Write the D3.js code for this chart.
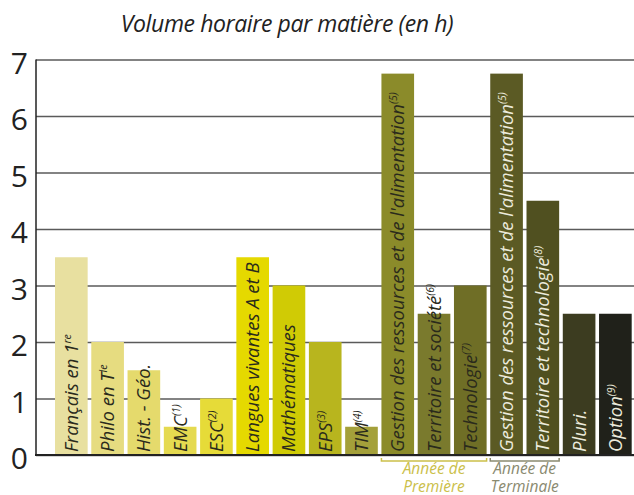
<!DOCTYPE html>
<meta charset="utf-8">
<script src="https://d3js.org/d3.v7.min.js"></script>
<style>
  html, body { margin: 0; padding: 0; background: #fff; }
  svg { display: block; font-family: 'Open Sans', sans-serif; }
</style>
<body>
<div id="chart"></div>
<script>

// data
var subjects = ["Français en 1", "Philo en T", "Hist. - Géo.", "EMC", "ESC",
  "Langues vivantes A et B", "Mathématiques", "EPS", "TIM",
  "Gestion des ressources et de l'alimentation", "Territoire et société", "Technologie",
  "Gestion des ressources et de l'alimentation", "Territoire et technologie", "Pluri.", "Option"]
var notes = ["re", "le", "", "(1)", "(2)", "", "", "(3)", "(4)", "(5)", "(6)", "(7)", "(5)", "(8)", "", "(9)"]
var hours = [3.5, 2, 1.5, 0.5, 1, 3.5, 3, 2, 0.5, 6.75, 2.5, 3, 6.75, 4.5, 2.5, 2.5]
var yTicks = [0, 1, 2, 3, 4, 5, 6, 7]
var groups = [
  {name: ["Année de", "Première"], from: 9, to: 11},
  {name: ["Année de", "Terminale"], from: 12, to: 13}
]

var palette = ["#e8e0a0", "#e6dc80", "#e5da6c", "#e5da50", "#e6db38", "#e5d900", "#d0cb05", "#b8b51e",
  "#a4a03a", "#8b8b2a", "#7a7a2d", "#6f6e26", "#5b5a24", "#505020", "#3c3c20", "#20211a"]
var groupColors = ["#cbc04a", "#8a8a70"]

var width = 634
    height = 495

var svg = d3.select("#chart")
  .append("svg")
    .attr("width", width)
    .attr("height", height)

var x = d3.scaleBand()
  .domain(d3.range(hours.length))
  .range([53.2, 633.5])
  .paddingInner(0.1)
  .paddingOuter(0.05)

var y = d3.scaleLinear()
  .domain([0, 7])
  .range([455, 59.5])

var color = d3.scaleOrdinal()
  .domain(d3.range(hours.length))
  .range(palette)

// title
svg.append("text")
  .attr("x", 287)
  .attr("y", 32)
  .attr("text-anchor", "middle")
  .style("font-size", "23px")
  .style("letter-spacing", "-0.4px")
  .style("font-style", "italic")
  .style("fill", "#222")
  .text("Volume horaire par matière (en h)")

// grid + y axis
var yAxis = svg.append("g")
  .attr("transform", "translate(36,0)")
  .call(d3.axisLeft(y).tickValues(yTicks).tickSize(-(width - 36)).tickFormat(d3.format("d")))

yAxis.select(".domain").remove()
yAxis.selectAll(".tick line")
  .attr("stroke", "#5a5a5a")
  .attr("stroke-width", 1.4)
yAxis.selectAll(".tick text")
  .attr("x", -8)
  .attr("dy", "0.45em")
  .style("font-size", "30px")
  .style("font-family", "'Open Sans', sans-serif")
  .style("fill", "#222")

// bars
svg.selectAll("rect.bar")
  .data(hours)
  .enter()
  .append("rect")
    .attr("class", "bar")
    .attr("x", function(d, i) { return x(i) })
    .attr("width", x.bandwidth())
    .attr("y", function(d) { return y(d) })
    .attr("height", function(d) { return y(0) - y(d) })
    .attr("fill", function(d, i) { return color(i) })

// axis lines on top
svg.append("line")
  .attr("x1", 36).attr("x2", 36)
  .attr("y1", y(7)).attr("y2", y(0))
  .attr("stroke", "#222")
  .attr("stroke-width", 1.5)
svg.append("line")
  .attr("x1", 35).attr("x2", width)
  .attr("y1", y(0)).attr("y2", y(0))
  .attr("stroke", "#222")
  .attr("stroke-width", 2)

// labels in the bars
var labels = svg.selectAll("text.lab")
  .data(subjects)
  .enter()
  .append("text")
    .attr("class", "lab")
    .attr("transform", function(d, i) {
      return "translate(" + (x(i) + x.bandwidth() / 2 + 6.5) + "," + (y(0) - 3) + ") rotate(-90)"
    })
    .style("font-size", "18.5px")
    .style("font-style", "italic")
    .style("fill", function(d, i) { return d3.lab(color(i)).l < 42 ? "#ecebdc" : "#2a2a1c" })

labels.append("tspan").text(function(d) { return d })
labels.append("tspan")
  .attr("dy", -7)
  .style("font-size", "10.5px")
  .text(function(d, i) { return notes[i] })

// year brackets under the axis
var g = svg.selectAll("g.grp")
  .data(groups)
  .enter()
  .append("g")
    .attr("class", "grp")

g.append("path")
  .attr("d", function(d) {
    var x0 = x(d.from), x1 = x(d.to) + x.bandwidth(), yy = 461
    return "M" + x0 + "," + (yy - 3) + "V" + yy + "H" + x1 + "V" + (yy - 3)
  })
  .attr("fill", "none")
  .attr("stroke", function(d, i) { return groupColors[i] })
  .attr("stroke-width", 1.5)

g.append("text")
  .attr("text-anchor", "middle")
  .style("font-size", "15.5px")
  .style("font-style", "italic")
  .style("fill", function(d, i) { return groupColors[i] })
  .each(function(d) {
    var cx = (x(d.from) + x(d.to) + x.bandwidth()) / 2
    d3.select(this).selectAll("tspan")
      .data(d.name)
      .enter()
      .append("tspan")
        .attr("x", cx)
        .attr("y", function(t, j) { return 474 + j * 17.5 })
        .text(function(t) { return t })
  })

</script>
</body>
